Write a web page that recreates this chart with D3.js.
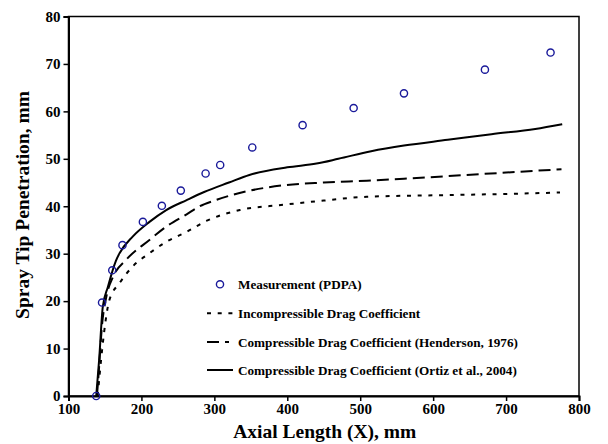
<!DOCTYPE html>
<html>
<head>
<meta charset="utf-8">
<script src="https://cdn.jsdelivr.net/npm/d3@7"></script>
<style>
  body { margin: 0; background: #fff; }
  svg text { font-family: "Liberation Serif", "Times New Roman", serif; font-weight: bold; }
</style>
</head>
<body>
<svg id="chart" width="608" height="444"></svg>
<script>
// measurement points (PDPA)
const measX = [138, 146, 160, 174, 202, 228, 254, 288, 308, 352, 421, 491, 560, 671, 761];
const measY = [0, 19.7, 26.5, 31.8, 36.7, 40.1, 43.3, 46.9, 48.7, 52.4, 57.1, 60.7, 63.8, 68.8, 72.4];

// Compressible drag coefficient (Ortiz et al., 2004) - solid
const ortizX = [138, 142, 147, 154, 165, 170, 188, 211, 234, 262, 286, 320, 348, 400, 440, 470, 515, 560, 620, 680, 740, 777];
const ortizY = [0, 7.6, 18.8, 23, 28.5, 30.1, 33.6, 36.7, 39.2, 41.3, 43, 45, 46.6, 48.2, 49, 50, 51.6, 52.8, 54, 55.2, 56.3, 57.3];

// Compressible drag coefficient (Henderson, 1976) - dashed
const hendX = [139, 141, 146, 152, 161, 179, 211, 234, 262, 280, 300, 340, 394, 450, 509, 560, 646, 700, 776];
const hendY = [0, 4, 15, 21, 25.1, 28.7, 32.9, 35.7, 38.3, 40, 41.2, 43, 44.4, 45, 45.4, 45.8, 46.6, 47.1, 47.8];

// Incompressible drag coefficient - dotted
const incX = [140, 143, 147, 151, 156, 170, 188, 211, 234, 262, 289, 335, 394, 450, 509, 600, 700, 774];
const incY = [0, 5, 11, 16, 20.2, 23.8, 27.3, 30.1, 32.5, 34.6, 36.9, 39.2, 40.3, 41.2, 42, 42.3, 42.6, 42.9];

const xTicks = [100, 200, 300, 400, 500, 600, 700, 800];
const yTicks = [0, 10, 20, 30, 40, 50, 60, 70, 80];

const legendLabels = ["Measurement (PDPA)", "Incompressible Drag Coefficient",
  "Compressible Drag Coefficient (Henderson, 1976)", "Compressible Drag Coefficient (Ortiz et al., 2004)"];

const margin = {left: 68.5, right: 29, top: 16.5, bottom: 48};
const W = 608, H = 444;

const svg = d3.select("#chart");

const x = d3.scaleLinear().domain([100, 800]).range([margin.left, W - margin.right]);
const y = d3.scaleLinear().domain([0, 80]).range([H - margin.bottom, margin.top]);

// plot frame
svg.append("rect")
  .attr("x", x(100)).attr("y", y(80))
  .attr("width", x(800) - x(100)).attr("height", y(0) - y(80))
  .attr("fill", "none").attr("stroke", "#000").attr("stroke-width", 1.5);

// axes
const xAxis = svg.append("g")
  .attr("transform", `translate(0,${y(0)})`)
  .call(d3.axisBottom(x).tickValues(xTicks).tickSize(5).tickPadding(2).tickFormat(d3.format("d")));
const yAxis = svg.append("g")
  .attr("transform", `translate(${x(100)},0)`)
  .call(d3.axisLeft(y).tickValues(yTicks).tickSize(5).tickPadding(3).tickFormat(d3.format("d")));

[xAxis, yAxis].forEach(a => {
  a.select(".domain").attr("stroke", "#000").attr("stroke-width", 2);
  a.selectAll(".tick line").attr("stroke", "#000").attr("stroke-width", 1.5);
  a.selectAll(".tick text").attr("fill", "#000")
    .style("font-family", "Liberation Serif, serif").style("font-weight", "bold").style("font-size", "15px");
});

// axis titles
svg.append("text")
  .attr("x", (x(100) + x(800)) / 2 + 1).attr("y", 438)
  .attr("text-anchor", "middle").style("font-size", "19.5px")
  .text("Axial Length (X), mm");

svg.append("text")
  .attr("transform", `translate(28.5,205) rotate(-90)`)
  .attr("text-anchor", "middle").style("font-size", "19.5px")
  .text("Spray Tip Penetration, mm");

// curves
const line = d3.line().x(d => x(d[0])).y(d => y(d[1])).curve(d3.curveMonotoneX);

const series = [
  {xs: incX, ys: incY, dash: "4,6.7", len: 26},
  {xs: hendX, ys: hendY, dash: "12,6", len: 22},
  {xs: ortizX, ys: ortizY, dash: null, len: 26}
];

series.forEach(s => {
  svg.append("path")
    .datum(s.xs.map((v, i) => [v, s.ys[i]]))
    .attr("d", line)
    .attr("fill", "none")
    .attr("stroke", "#000")
    .attr("stroke-width", 2)
    .attr("stroke-dasharray", s.dash);
});

// measurement markers
svg.append("g").selectAll("circle")
  .data(measX.map((v, i) => [v, measY[i]]))
  .enter().append("circle")
  .attr("cx", d => x(d[0]))
  .attr("cy", d => y(d[1]))
  .attr("r", 3.6)
  .attr("fill", "none")
  .attr("stroke", "#1a1a9a")
  .attr("stroke-width", 1.4);

// legend
const legY = [284.3, 313.3, 342, 370];
const lg = svg.append("g");
lg.append("circle").attr("cx", 220).attr("cy", legY[0]).attr("r", 3.6)
  .attr("fill", "none").attr("stroke", "#1a1a9a").attr("stroke-width", 1.4);
series.forEach((s, i) => {
  lg.append("line")
    .attr("x1", 207).attr("x2", 207 + s.len)
    .attr("y1", legY[i + 1]).attr("y2", legY[i + 1])
    .attr("stroke", "#000").attr("stroke-width", 2)
    .attr("stroke-dasharray", s.dash);
});
legendLabels.forEach((t, i) => {
  lg.append("text")
    .attr("x", 238).attr("y", legY[i] + 4.5)
    .style("font-size", "13.2px")
    .text(t);
});
</script>
</body>
</html>
